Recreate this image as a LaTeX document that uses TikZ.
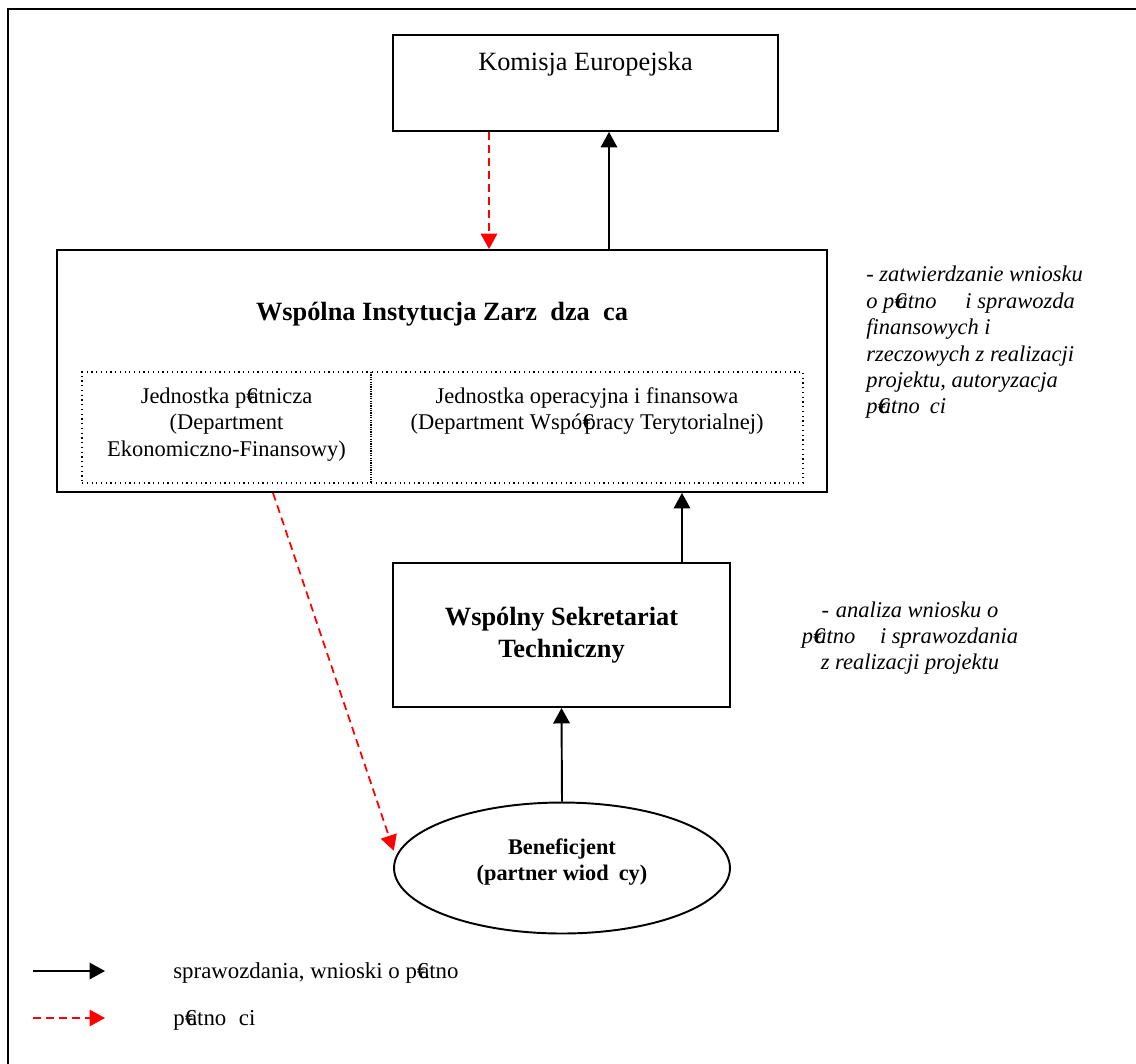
\documentclass[tikz,border=0pt]{standalone}
\usepackage{fontspec}
\setmainfont{Liberation Serif}
\usepackage{tikz}
\usetikzlibrary{arrows.meta, positioning, shapes.geometric, calc}
\definecolor{payred}{RGB}{255,0,0}
\newcommand{\eur}{\makebox[0.1em][l]{€}}
\newcommand{\gap}[1]{\hspace*{#1em}}

\begin{document}
\begin{tikzpicture}[x=0.02cm, y=-0.02cm,
  box/.style={draw, line width=1.1pt, inner sep=0pt},
  cell/.style={draw, dotted, line width=0.7pt, inner sep=0pt, minimum height=2.22cm},
  flow/.style={-{Triangle[length=3.1mm, width=3.3mm]}, line width=1.1pt},
  pay/.style={-{Triangle[length=3.1mm, width=3.3mm]}, line width=1pt, payred,
              dash pattern=on 1.6mm off 1.0mm},
  big/.style={font=\fontsize{15}{18}\selectfont, inner sep=0pt},
  bigb/.style={font=\fontsize{15}{18}\selectfont\bfseries, inner sep=0pt},
  txt/.style={font=\fontsize{12.8}{15}\selectfont, align=center, inner sep=0pt},
  note/.style={font=\fontsize{12.8}{15}\selectfont\itshape, inner sep=0pt},
  leg/.style={font=\fontsize{13}{15}\selectfont, inner sep=0pt, anchor=west}]

  \useasboundingbox (0,0) rectangle (1136,1063);
  \draw[line width=1.1pt] (8,9) rectangle (1150,1080);

  \node[box, minimum width=7.7cm, minimum height=1.92cm] (ke) at (585.5,83) {};
  \node[big] (keT) at ([yshift=-6mm]ke.north) {Komisja Europejska};

  \node[box, minimum width=15.4cm, minimum height=4.84cm] (wiz) at (442,371) {};
  \node[bigb] (wizT) at ([yshift=-13mm]wiz.north)
       {Wspólna Instytucja Zarz\gap{0.5}dza\gap{0.5}ca};
  \node[cell, minimum width=5.78cm] (jpl) at (226.5,427.5) {};
  \node[cell, minimum width=8.64cm] (jop) at (587,427.5) {};
  \node[txt, anchor=north] (jplT) at ([yshift=-3.2mm]jpl.north)
       {Jednostka p\eur atnicza\\(Department\\Ekonomiczno-Finansowy)};
  \node[txt, anchor=north] (jopT) at ([yshift=-3.2mm]jop.north)
       {Jednostka operacyjna i finansowa\\(Department Wspó\eur pracy Terytorialnej)};

  \node[note, anchor=north west, align=left] (desc1) at (866,266)
       {- zatwierdzanie wniosku\\o p\eur atno\gap{1.28}i sprawozda\\finansowych i\\%
        rzeczowych z realizacji\\projektu, autoryzacja\\p\eur atno\gap{0.45}ci};

  \node[box, bigb, align=center, minimum width=6.74cm, minimum height=2.88cm] (wst)
       at (561.5,635) {Wspólny Sekretariat\\Techniczny};
  \node[note, align=center] (desc2) at (910,638)
       {-\gap{0.3}analiza wniosku o\\p\eur atno\gap{1.1}i sprawozdania\\z realizacji projektu};

  \node[draw, ellipse, line width=1.1pt, minimum width=6.72cm, minimum height=2.62cm]
       (ben) at (562,868) {};
  \node[txt, font=\fontsize{12.7}{14.7}\selectfont\bfseries] (benT) at (562,862)
       {Beneficjent\\(partner wiod\gap{0.45}cy)};

  \draw[pay] ([xshift=-1.93cm]ke.south) -- ([xshift=-1.93cm]ke.south |- wiz.north);
  \draw[flow] ([xshift=0.47cm]ke.south |- wiz.north) -- ([xshift=0.47cm]ke.south);
  \draw[flow] ([xshift=2.41cm]wst.north) -- ([xshift=2.41cm]wst.north |- wiz.south);
  \draw[flow] (ben.north) -- (wst.south);
  \draw[pay, shorten >=1.2mm] ([xshift=-3.38cm]wiz.south) -- (ben.176);

  \coordinate (l1a) at (33,971);
  \coordinate (l1b) at (105,971);
  \coordinate (l2a) at (33,1018);
  \coordinate (l2b) at (105,1018);
  \draw[flow] (l1a) -- (l1b);
  \draw[pay] (l2a) -- (l2b);
  \node[leg] (leg1) at (173,973) {sprawozdania, wnioski o p\eur atno};
  \node[leg] (leg2) at (173,1020) {p\eur atno\gap{0.55}ci};
\end{tikzpicture}
\end{document}
